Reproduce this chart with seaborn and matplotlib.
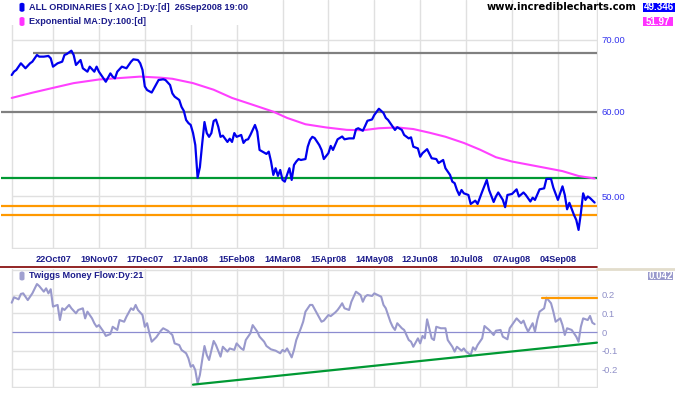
import numpy as np
import pandas as pd
import seaborn as sns
import matplotlib.pyplot as plt
from matplotlib.patches import Rectangle, FancyBboxPatch
from matplotlib.lines import Line2D
from matplotlib.ticker import NullLocator

# trading day number (0 = 26Sep07) and the All Ordinaries close
xao_day = [0, 1, 2, 4, 6, 8, 9, 11, 12, 14, 16, 17, 18, 20, 22, 23, 24, 26, 27, 28,
           30, 31, 33, 34, 36, 37, 38, 39, 41, 43, 44, 45, 46, 48, 50, 52, 53, 55, 56, 57,
           58, 59, 61, 62, 64, 66, 67, 69, 70, 71, 73, 74, 75, 76, 77, 78, 79, 80, 81, 82,
           83, 84, 85, 86, 87, 88, 89, 90, 91, 92, 94, 95, 96, 97, 98, 100, 101, 102, 103, 104,
           105, 106, 107, 108, 110, 111, 112, 113, 114, 115, 116, 117, 118, 119, 120, 121, 122, 123, 124, 125,
           126, 128, 129, 130, 131, 132, 134, 135, 136, 138, 139, 140, 142, 144, 145, 147, 149, 150, 151, 153,
           154, 155, 157, 158, 160, 162, 163, 164, 166, 167, 168, 170, 171, 173, 174, 175, 177, 178, 179, 181,
           183, 185, 186, 188, 189, 191, 192, 193, 194, 195, 196, 197, 199, 200, 202, 203, 205, 207, 208, 210,
           211, 212, 214, 215, 216, 218, 220, 221, 223, 224, 226, 227, 228, 230, 232, 233, 235, 236, 238, 240,
           241, 242, 243, 245, 246, 247, 248, 249, 250, 251, 252, 254]
xao_val = [64.92, 65.40, 65.63, 66.58, 65.87, 66.58, 66.81, 67.78, 67.54, 67.54, 67.64, 67.30, 66.10, 66.58, 66.81, 67.78, 67.92, 68.41, 67.78, 66.34,
           67.05, 65.87, 65.39, 66.10, 65.39, 66.10, 65.39, 64.92, 63.99, 65.15, 64.69, 64.46, 65.39, 66.10, 65.87, 66.81, 67.15, 67.05, 66.58, 65.63,
           63.35, 62.86, 62.52, 63.08, 64.23, 64.33, 64.23, 63.54, 62.41, 61.97, 61.53, 60.62, 60.10, 58.94, 58.55, 58.31, 57.32, 55.85, 52.07, 53.26,
           56.00, 58.68, 57.30, 56.84, 57.30, 58.81, 58.99, 58.10, 56.84, 56.99, 56.22, 56.61, 56.22, 57.30, 56.84, 57.07, 56.10, 56.46, 56.54, 57.07,
           57.69, 58.31, 57.48, 55.26, 54.95, 54.79, 55.06, 53.90, 52.37, 53.13, 52.26, 52.93, 51.81, 51.62, 52.40, 53.13, 51.81, 53.50, 53.90, 54.19,
           54.08, 54.19, 55.65, 56.46, 56.84, 56.69, 55.85, 55.26, 54.19, 54.88, 55.74, 55.26, 56.54, 56.88, 56.54, 56.65, 56.65, 57.77, 57.90, 57.59,
           58.19, 58.84, 59.00, 59.58, 60.38, 59.83, 59.20, 58.94, 58.09, 57.69, 58.03, 57.69, 57.07, 56.65, 56.78, 55.65, 55.44, 54.46, 54.88, 55.35,
           54.28, 54.19, 53.73, 54.08, 53.13, 52.37, 51.62, 51.45, 50.70, 50.16, 50.70, 50.34, 50.16, 49.20, 49.55, 49.20, 50.52, 51.81, 50.70, 49.41,
           50.00, 50.43, 49.63, 48.86, 50.16, 50.27, 50.77, 50.00, 50.43, 50.16, 49.46, 49.87, 49.63, 50.77, 50.88, 51.93, 51.93, 50.96, 49.63, 51.10,
           50.16, 48.64, 49.32, 48.05, 47.54, 46.53, 48.22, 50.34, 49.63, 50.00, 49.83, 49.346]

# 100-day exponential moving average
ema_day = [0, 9, 18, 27, 38, 47, 56, 65, 70, 79, 88, 96, 105, 114, 120, 128, 137, 146, 153, 160,
           168, 175, 182, 189, 197, 204, 211, 218, 226, 233, 240, 247, 254]
ema_val = [61.8, 62.5, 63.15, 63.8, 64.3, 64.5, 64.7, 64.55, 64.4, 63.8, 62.9, 61.8, 60.9, 60.0, 59.2, 58.4, 58.0, 57.7, 57.65, 57.9,
           58.0, 57.8, 57.35, 56.85, 56.1, 55.3, 54.4, 53.9, 53.5, 53.15, 52.8, 52.25, 51.97]

# Twiggs Money Flow (21 day)
tmf_day = [0, 1, 3, 4, 5, 7, 8, 9, 11, 12, 14, 15, 16, 17, 18, 20, 21, 22, 23, 25,
           26, 28, 29, 31, 32, 33, 35, 36, 37, 38, 40, 41, 43, 44, 46, 47, 49, 50, 52, 53,
           54, 55, 57, 58, 59, 60, 61, 63, 65, 66, 68, 70, 71, 73, 74, 76, 77, 78, 79, 80,
           81, 82, 83, 84, 85, 86, 88, 89, 91, 92, 94, 95, 97, 98, 100, 101, 102, 104, 105, 107,
           108, 110, 111, 113, 115, 117, 118, 119, 120, 122, 123, 124, 126, 127, 128, 130, 131, 133, 135, 136,
           138, 139, 141, 142, 143, 144, 145, 147, 148, 150, 152, 153, 154, 155, 157, 158, 160, 161, 162, 163,
           165, 166, 167, 168, 170, 171, 173, 174, 175, 177, 178, 179, 180, 181, 183, 184, 185, 187, 189, 190,
           192, 193, 194, 196, 197, 198, 200, 201, 202, 203, 205, 206, 208, 210, 211, 213, 214, 216, 217, 219,
           220, 222, 223, 224, 225, 227, 228, 229, 230, 232, 233, 235, 236, 237, 239, 240, 241, 242, 244, 246,
           247, 248, 249, 251, 252, 253, 254]
tmf_val = [0.157, 0.186, 0.175, 0.204, 0.207, 0.171, 0.189, 0.207, 0.257, 0.246, 0.216, 0.234, 0.207, 0.229, 0.136, 0.145, 0.064, 0.127, 0.118, 0.145,
           0.127, 0.100, 0.118, 0.127, 0.073, 0.109, 0.073, 0.047, 0.028, 0.037, 0.002, -0.021, -0.011, 0.028, 0.011, 0.064, 0.055, 0.082, 0.127, 0.118,
           0.145, 0.118, 0.091, 0.028, 0.047, -0.007, -0.052, -0.028, 0.007, 0.020, 0.007, -0.016, -0.061, -0.070, -0.096, -0.114, -0.141, -0.186, -0.177, -0.204,
           -0.275, -0.230, -0.150, -0.075, -0.123, -0.150, -0.048, -0.070, -0.132, -0.079, -0.105, -0.088, -0.096, -0.061, -0.088, -0.096, -0.043, -0.007, 0.037, 0.002,
           -0.025, -0.052, -0.075, -0.093, -0.100, -0.114, -0.096, -0.105, -0.088, -0.136, -0.096, -0.043, 0.020, 0.055, 0.109, 0.145, 0.145, 0.100, 0.055, 0.061,
           0.091, 0.085, 0.105, 0.118, 0.135, 0.154, 0.127, 0.118, 0.162, 0.216, 0.198, 0.162, 0.189, 0.198, 0.193, 0.207, 0.195, 0.189, 0.145, 0.127,
           0.055, 0.028, 0.011, 0.047, 0.020, 0.011, -0.043, -0.052, -0.079, -0.034, -0.061, -0.021, -0.034, 0.068, -0.034, -0.043, 0.028, 0.020, 0.020, -0.043,
           -0.079, -0.105, -0.079, -0.100, -0.088, -0.105, -0.123, -0.082, -0.096, -0.070, -0.034, 0.032, 0.011, -0.016, 0.007, 0.011, -0.025, -0.039, 0.020, 0.055,
           0.073, 0.047, 0.061, 0.028, 0.002, 0.047, 0.002, 0.064, 0.109, 0.127, 0.184, 0.154, 0.109, 0.055, 0.073, 0.037, -0.016, 0.020, 0.011, -0.025,
           -0.052, 0.028, 0.073, 0.064, 0.086, 0.050, 0.042]

tick_day = [18, 38, 58, 78, 98, 118, 138, 158, 178, 198, 218, 238]
tick_lbl = ['22Oct07', '19Nov07', '17Dec07', '17Jan08', '15Feb08', '14Mar08',
            '15Apr08', '14May08', '12Jun08', '10Jul08', '07Aug08', '04Sep08']

# hand-drawn lines
level_val = [68.0, 60.0, 52.0, 49.0, 48.0]
level_from = [9.3, -4.7, -4.7, -4.7, -4.7]
level_col = ['#808080', '#808080', '#009933', '#ff9900', '#ff9900']
tmf_trend_day = [79, 255]
tmf_trend_val = [-0.282, -0.057]
tmf_top_day = [231, 255]
tmf_top_val = [0.184, 0.184]

sns.set_style('white')
plt.rcParams['font.family'] = ['Liberation Sans', 'DejaVu Sans']

W, H = 675, 395
fig = plt.figure(figsize=(W / 100, H / 100), dpi=100)


def fx(x):
    return x / W


def fy(y):
    return 1 - y / H


GRID = '#e0e0e0'
NAVY = '#1c1c8c'
x0, x1 = -11.7 / 2.295, (598 - 11.7) / 2.295
xend = (596.7 - 11.7) / 2.295

# ---- price panel (log scale) ----
ax1 = fig.add_axes([0, fy(249), fx(598), 249 / H])
ax1.set_yscale('log')
lo1 = 70 * np.exp(-(249 - 40) / 465)
hi1 = 70 * np.exp(40 / 465)
ax1.set_xlim(x0, x1)
ax1.set_ylim(lo1, hi1)
for d in [0] + tick_day + [xend]:
    ax1.axvline(d, color=GRID, lw=1, zorder=0)
ax1.hlines([50, 70, 70 * np.exp(-(248 - 40) / 465)], 0, xend, color=GRID, lw=1, zorder=0)
for v, s, c in zip(level_val, level_from, level_col):
    ax1.hlines(v, s, xend, color=c, lw=1.6, zorder=1)
sns.lineplot(x=ema_day, y=ema_val, ax=ax1, color='#ff40ff', linewidth=1.5, zorder=2)
sns.lineplot(x=xao_day, y=xao_val, ax=ax1, color='#0000ee', linewidth=1.6, zorder=3)
ax1.yaxis.tick_right()
ax1.yaxis.set_minor_locator(NullLocator())
ax1.set_yticks([50, 60, 70], ['50.00', '60.00', '70.00'])
ax1.set_xticks(tick_day, tick_lbl)
ax1.tick_params(axis='y', length=0, pad=2.7, labelsize=6.8, labelcolor='#3333ee')
ax1.tick_params(axis='x', length=0, pad=4, labelsize=6.6, labelcolor=NAVY)
for t in ax1.get_xticklabels():
    t.set_fontweight('bold')
for t in ax1.get_yticklabels():
    t.set_horizontalalignment('left')
ax1.set_xlabel('')
ax1.set_ylabel('')
for sp in ax1.spines.values():
    sp.set_visible(False)
ax1.set_facecolor('none')

# ---- money flow panel ----
ax2 = fig.add_axes([0, fy(388), fx(598), (388 - 269) / H])
ax2.set_xlim(x0, x1)
ax2.set_ylim(-(388 - 332) / 186.7, (332 - 269) / 186.7)
for d in [0] + tick_day + [xend]:
    ax2.axvline(d, color=GRID, lw=1, zorder=0)
ax2.hlines([0.2, 0.1, -0.1, -0.2, (332 - 270) / 186.7, -(387.3 - 332) / 186.7], 0, xend,
           color=GRID, lw=1, zorder=0)
ax2.hlines(0, 0, xend, color='#8c8cd0', lw=0.9, zorder=1)
sns.lineplot(x=tmf_day, y=tmf_val, ax=ax2, color='#9999cc', linewidth=1.5, zorder=2)
sns.lineplot(x=tmf_trend_day, y=tmf_trend_val, ax=ax2, color='#009933', linewidth=1.6, zorder=3)
sns.lineplot(x=tmf_top_day, y=tmf_top_val, ax=ax2, color='#ff9900', linewidth=1.6, zorder=3)
ax2.yaxis.tick_right()
ax2.set_yticks([0.2, 0.1, 0, -0.1, -0.2], ['0.2', '0.1', '0', '-0.1', '-0.2'])
ax2.set_xticks([])
ax2.tick_params(axis='y', length=0, pad=2.7, labelsize=6.8, labelcolor='#9090c8')
for t in ax2.get_yticklabels():
    t.set_horizontalalignment('left')
ax2.set_xlabel('')
ax2.set_ylabel('')
for sp in ax2.spines.values():
    sp.set_visible(False)
ax2.set_facecolor('none')

# separators
fig.add_artist(Line2D([0, fx(597)], [fy(266.7)] * 2, color='#800000', lw=1.2))
fig.add_artist(Line2D([fx(597), 1], [fy(268.8)] * 2, color='#e2ddcc', lw=2))

# legends
fig.add_artist(Rectangle((0, fy(25)), fx(256), 25 / H, transform=fig.transFigure,
                         facecolor='white', edgecolor='none', zorder=4))


def swatch(y, color):
    fig.add_artist(FancyBboxPatch((fx(19.5), fy(y + 4.5)), fx(5), 9 / H,
                                  boxstyle='round,pad=0,rounding_size=0.004',
                                  transform=fig.transFigure, facecolor=color,
                                  edgecolor='none', zorder=5))


swatch(7.3, '#0000ee')
swatch(21.5, '#ff33ff')
swatch(276, '#a0a0d0')
fig.text(fx(29), fy(7.3), 'ALL ORDINARIES [ XAO ]:Dy:[d]  26Sep2008 19:00', va='center',
         fontsize=6.6, weight='bold', color=NAVY, zorder=6)
fig.text(fx(29), fy(21.5), 'Exponential MA:Dy:100:[d]', va='center',
         fontsize=6.6, weight='bold', color=NAVY, zorder=6)
fig.text(fx(29), fy(276), 'Twiggs Money Flow:Dy:21', va='center',
         fontsize=6.6, weight='bold', color=NAVY, zorder=6)
fig.text(fx(637), fy(7.3), 'www.incrediblecharts.com', ha='right', va='center',
         fontsize=7.2, weight='bold', family='DejaVu Sans', color='black', zorder=6)


def value_box(xa, xb, ya, yb, color, label):
    fig.add_artist(Rectangle((fx(xa), fy(yb)), (xb - xa) / W, (yb - ya) / H,
                             transform=fig.transFigure, facecolor=color,
                             edgecolor='none', zorder=5))
    fig.text(fx((xa + xb) / 2), fy((ya + yb) / 2), label, ha='center', va='center',
             fontsize=7, weight='bold', color='white', zorder=6)


value_box(642.7, 675, 2.7, 11.7, '#0000ff', '49.346')
value_box(642.7, 673.3, 17.3, 26, '#ff33ff', '51.97')
value_box(648.3, 673.3, 271.7, 280, '#9999cc', '0.042')

fig.savefig('out.png', dpi=100)
